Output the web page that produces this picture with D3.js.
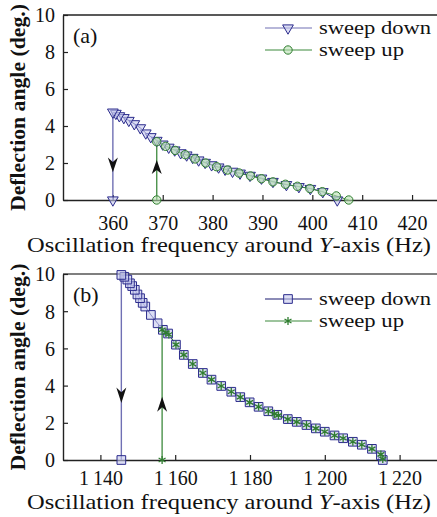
<!DOCTYPE html>
<html>
<head>
<meta charset="utf-8">
<script src="https://cdn.jsdelivr.net/npm/d3@7"></script>
<style>
  body { margin: 0; background: #fff; }
</style>
</head>
<body>
<div id="chart"></div>
<script>
// panel (a): sweep order, last point is the jump
var downFreqA = [405.0, 402.1, 399.6, 397.3, 394.8, 392.1, 389.8, 387.5, 385.5, 384.0, 382.5, 381.2, 379.8, 378.5, 377.2, 376.0, 374.8, 373.6, 372.4, 371.2, 370.0, 368.8, 367.6, 366.6, 365.5, 364.3, 363.2, 362.2, 361.3, 360.6, 360.0, 360.0];
var downAngA  = [0.0, 0.45, 0.62, 0.72, 0.83, 1.0, 1.18, 1.33, 1.45, 1.55, 1.66, 1.78, 1.9, 2.03, 2.16, 2.3, 2.43, 2.55, 2.7, 2.85, 3.02, 3.22, 3.42, 3.62, 3.9, 4.12, 4.3, 4.45, 4.55, 4.68, 4.75, 0.0];
var upFreqA = [368.8, 368.8, 370.6, 372.5, 374.5, 376.5, 378.6, 380.8, 383.0, 385.3, 387.6, 389.8, 392.1, 394.6, 397.0, 399.5, 402.0, 404.8, 407.3];
var upAngA  = [0.0, 3.15, 2.9, 2.68, 2.45, 2.22, 2.0, 1.8, 1.62, 1.46, 1.3, 1.15, 0.98, 0.85, 0.74, 0.62, 0.45, 0.22, 0.0];

// panel (b)
var downFreqB = [1215.5, 1215.0, 1212.6, 1209.9, 1207.5, 1204.9, 1202.6, 1200.0, 1197.6, 1195.1, 1192.5, 1190.1, 1187.3, 1184.9, 1182.3, 1179.9, 1177.4, 1175.0, 1172.3, 1169.7, 1167.4, 1164.7, 1162.3, 1160.2, 1158.1, 1156.7, 1155.3, 1153.5, 1152.0, 1151.3, 1150.6, 1149.9, 1149.2, 1148.5, 1147.9, 1147.2, 1146.4, 1145.6, 1145.6];
var downAngB  = [0.0, 0.25, 0.6, 0.82, 0.98, 1.17, 1.32, 1.52, 1.7, 1.88, 2.05, 2.2, 2.43, 2.62, 2.86, 3.1, 3.38, 3.67, 3.98, 4.32, 4.68, 5.16, 5.65, 6.2, 6.8, 7.0, 7.35, 7.8, 8.25, 8.45, 8.7, 8.9, 9.15, 9.35, 9.5, 9.7, 9.85, 9.95, 0.0];
var upFreqB = [1156.5, 1156.5, 1157.5, 1158.3, 1160.2, 1162.3, 1164.7, 1167.4, 1169.7, 1172.3, 1175.0, 1177.4, 1179.9, 1182.3, 1184.9, 1186.5, 1187.6, 1190.1, 1192.5, 1195.1, 1197.6, 1200.0, 1202.6, 1204.9, 1207.5, 1209.9, 1212.6, 1215.0, 1215.5];
var upAngB  = [0.0, 7.0, 6.85, 6.75, 6.2, 5.65, 5.16, 4.68, 4.32, 3.98, 3.67, 3.38, 3.1, 2.86, 2.62, 2.48, 2.4, 2.2, 2.05, 1.88, 1.7, 1.52, 1.32, 1.17, 0.98, 0.82, 0.6, 0.3, 0.05];

var yTicks = [0, 2, 4, 6, 8, 10];
var xTicksA = [360, 370, 380, 390, 400, 410, 420];
var xTicksB = [1140, 1160, 1180, 1200, 1220];
var seriesNames = ["sweep down", "sweep up"];
var panelTags = ["(a)", "(b)"];
// arrows: [x, tipAngle, baseAngle]
var arrowsA = [[360, 1.5, 2.3], [368.8, 2.16, 1.4]];
var arrowsB = [[1145.6, 3.06, 3.9], [1156.5, 3.4, 2.6]];

var FONT = "'Liberation Serif', 'DejaVu Serif', 'Times New Roman', Times, serif";

var W = 437, H = 517;
var svg = d3.select("#chart").append("svg")
  .attr("width", W)
  .attr("height", H);

var downCol = "#2b2b8c", downLine = "#7070b4", upCol = "#2f7d2f", upLine = "#3d8a3d";

function drawPanel(opt) {
  var x = d3.scaleLinear().domain(opt.xDomain).range([63, 437]);
  var y = d3.scaleLinear().domain([0, 10]).range([opt.bottom, opt.top]);
  var g = svg.append("g");

  // frame: top line
  g.append("line")
    .attr("x1", 63).attr("x2", 437)
    .attr("y1", opt.top).attr("y2", opt.top)
    .attr("stroke", opt.frameCol).attr("stroke-width", 1.5);

  var xAxis = d3.axisBottom(x).tickValues(opt.xTicks).tickSize(-5).tickSizeOuter(0)
    .tickFormat(opt.fmt).tickPadding(opt.xPad);
  var gx = g.append("g").attr("transform", `translate(0,${opt.bottom})`).call(xAxis);
  var yAxis = d3.axisLeft(y).tickValues(yTicks).tickSize(-5).tickSizeOuter(0).tickPadding(8);
  var gy = g.append("g").attr("transform", "translate(63,0)").call(yAxis);
  [gx, gy].forEach(a => {
    a.attr("font-family", FONT).attr("font-size", 20);
    a.select(".domain").attr("stroke", "#222").attr("stroke-width", 1.4);
    a.selectAll(".tick line").attr("stroke", "#222").attr("stroke-width", 1.2);
    a.selectAll("text").style("font-family", FONT).style("font-size", "20px").attr("fill", "#111");
  });
  gy.selectAll(".tick text").attr("dy", "0.34em");

  var line = d3.line().x(d => x(d[0])).y(d => y(d[1]));
  var down = opt.downF.map((f, i) => [f, opt.downA[i]]);
  var up = opt.upF.map((f, i) => [f, opt.upA[i]]);

  // jump segments (lighter)
  var dj = down.slice(-2), uj = up.slice(0, 2);
  g.append("path").attr("d", line(dj)).attr("fill", "none").attr("stroke", downLine).attr("stroke-width", 1.4);
  g.append("path").attr("d", line(uj)).attr("fill", "none").attr("stroke", upLine).attr("stroke-width", 1.3);
  g.append("path").attr("d", line(down.slice(0, -1))).attr("fill", "none").attr("stroke", downCol).attr("stroke-width", 1);
  g.append("path").attr("d", line(up.slice(1))).attr("fill", "none").attr("stroke", upLine).attr("stroke-width", 1);

  // arrowheads
  opt.arrows.forEach(a => {
    var ax = x(a[0]), tip = y(a[1]), base = y(a[2]);
    var dir = tip > base ? 1 : -1, len = Math.abs(tip - base);
    var p = d3.path();
    p.moveTo(ax, tip);
    p.lineTo(ax - 5, tip - dir * len);
    p.lineTo(ax, tip - dir * len * 0.7);
    p.lineTo(ax + 5, tip - dir * len);
    p.closePath();
    g.append("path").attr("d", p.toString()).attr("fill", "#111");
  });

  // markers
  var downSym = d3.symbol().type(opt.downType).size(opt.downSize);
  g.selectAll(".dm").data(down).enter().append("path")
    .attr("class", "dm")
    .attr("d", downSym)
    .attr("transform", d => `translate(${x(d[0])},${y(d[1])})` + (opt.flip ? " rotate(180)" : ""))
    .attr("fill", "#c4c8ec").attr("fill-opacity", 0.6)
    .attr("stroke", downCol).attr("stroke-width", 1);

  var upSym = d3.symbol().type(opt.upType).size(opt.upSize);
  g.selectAll(".um").data(up).enter().append("path")
    .attr("class", "um")
    .attr("d", upSym)
    .attr("transform", d => `translate(${x(d[0])},${y(d[1])})`)
    .attr("fill", opt.upFill).attr("fill-opacity", 0.6)
    .attr("stroke", upCol).attr("stroke-width", opt.upStroke);

  // legend
  var lx1 = 265, lx2 = 312, lm = 288, legLen = [112, 85];
  [0, 1].forEach(i => {
    var ly = opt.legendY + i * 22;
    g.append("line").attr("x1", lx1).attr("x2", lx2).attr("y1", ly).attr("y2", ly)
      .attr("stroke", i == 0 ? opt.legDownLine : upLine).attr("stroke-width", 1.2);
    var sym = i == 0 ? downSym : upSym;
    g.append("path").attr("d", sym)
      .attr("transform", `translate(${lm},${ly})` + (i == 0 && opt.flip ? " rotate(180)" : ""))
      .attr("fill", i == 0 ? "#c4c8ec" : opt.upFill).attr("fill-opacity", 0.6)
      .attr("stroke", i == 0 ? downCol : upCol).attr("stroke-width", i == 0 ? 1 : opt.upStroke);
    g.append("text").attr("x", 319).attr("y", ly + 6)
      .attr("textLength", legLen[i]).attr("lengthAdjust", "spacingAndGlyphs")
      .style("font-family", FONT).style("font-size", "18px").attr("fill", "#111")
      .text(seriesNames[i]);
  });

  g.append("text").attr("x", 73).attr("y", opt.top + 28)
    .style("font-family", FONT).style("font-size", "22px").attr("fill", "#111")
    .text(opt.tag);

  var xl = g.append("text")
    .attr("x", 27).attr("y", opt.xlY)
    .attr("textLength", 404).attr("lengthAdjust", "spacingAndGlyphs")
    .style("font-family", FONT).style("font-size", "22px").attr("fill", "#111");
  xl.append("tspan").text("Oscillation frequency around ");
  xl.append("tspan").style("font-style", "italic").text("Y");
  xl.append("tspan").text("-axis (Hz)");

  g.append("text")
    .attr("transform", `translate(25,${(opt.top + opt.bottom) / 2}) rotate(-90)`)
    .attr("text-anchor", "middle")
    .attr("textLength", 207).attr("lengthAdjust", "spacingAndGlyphs")
    .style("font-family", FONT).style("font-size", "21px").style("font-weight", "bold")
    .attr("fill", "#111")
    .text("Deflection angle (deg.)");
}

var fmtB = d => { var s = String(d); return s.slice(0, 1) + "\u2009" + s.slice(1); };

drawPanel({
  xDomain: [350, 425], top: 15, bottom: 200, xTicks: xTicksA, fmt: d3.format("d"), xPad: 16, xlY: 252,
  downF: downFreqA, downA: downAngA, upF: upFreqA, upA: upAngA,
  downType: d3.symbolTriangle, downSize: 50, flip: true,
  upType: d3.symbolCircle, upSize: 55, upFill: "#b8e0b0", upStroke: 1,
  arrows: arrowsA, legendY: 28, legDownLine: downLine, tag: panelTags[0], frameCol: "#222"
});

drawPanel({
  xDomain: [1130, 1230], top: 274, bottom: 460, xTicks: xTicksB, fmt: fmtB, xPad: 11, xlY: 509,
  downF: downFreqB, downA: downAngB, upF: upFreqB, upA: upAngB,
  downType: d3.symbolSquare, downSize: 75, flip: false,
  upType: d3.symbolAsterisk, upSize: 45, upFill: "none", upStroke: 1.3,
  arrows: arrowsB, legendY: 299, legDownLine: "#1a1a70", tag: panelTags[1], frameCol: "#555"
});
</script>
</body>
</html>
